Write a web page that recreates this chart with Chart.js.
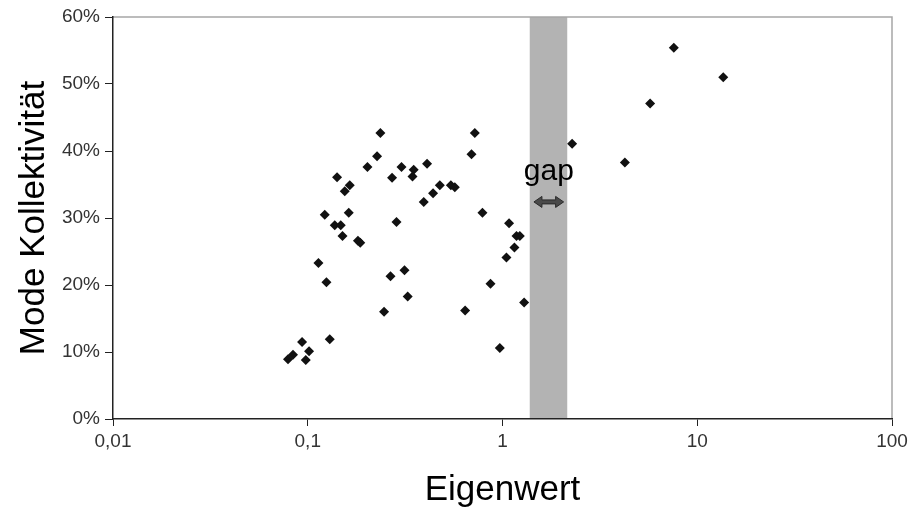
<!DOCTYPE html>
<html>
<head>
<meta charset="utf-8">
<script src="https://cdn.jsdelivr.net/npm/chart.js@4.4.0/dist/chart.umd.min.js"></script>
<style>
  html, body { margin: 0; padding: 0; background: #fff; }
  #wrap { width: 910px; height: 509px; }
</style>
</head>
<body>
<div id="wrap"><canvas id="modeChart"></canvas></div>
<script>
// Eigenwert (x, log) and Mode Kollektivitaet in % (y)
const eigenwert = [
  0.236, 0.227, 0.2026, 0.1414, 0.1643, 0.1549, 0.303, 0.271, 0.350, 0.345,
  0.410, 0.4766, 0.543, 0.569, 0.440, 0.394, 0.1223, 0.1624, 0.1376, 0.1477,
  0.1508, 0.181, 0.186, 0.2855, 0.1135, 0.1247, 0.266, 0.314, 0.326, 0.2465,
  0.0935, 0.1016, 0.084, 0.0792, 0.0977, 0.1297, 0.721, 0.693, 0.789, 1.081,
  1.180, 1.227, 1.152, 1.048, 0.868, 1.291, 0.643, 0.969, 2.278, 7.58,
  13.6, 5.73, 4.25
];
const kollektivitaet = [
  42.7, 39.2, 37.6, 36.1, 34.9, 34.0, 37.6, 36.0, 37.2, 36.2,
  38.1, 34.9, 34.9, 34.6, 33.7, 32.4, 30.5, 30.8, 28.9, 28.9,
  27.3, 26.6, 26.3, 29.4, 23.3, 20.4, 21.3, 22.2, 18.3, 16.0,
  11.5, 10.1, 9.6, 8.9, 8.8, 11.9, 42.7, 39.5, 30.8, 29.2,
  27.3, 27.3, 25.6, 24.1, 20.2, 17.4, 16.2, 10.6, 41.1, 55.4,
  51.0, 47.1, 38.3
];

const xTicks = [0.01, 0.1, 1, 10, 100];
const yTicks = [0, 10, 20, 30, 40, 50, 60];

// grey band + arrow marking the gap
const gapFrom = 1.38;
const gapTo = 2.15;
const arrowFrom = 1.45;
const arrowTo = 2.06;
const arrowAt = 32.4;
const gapLabel = 'gap';
const gapLabelX = 1.73;
const gapLabelY = 36.9;

const points = eigenwert.map((v, i) => ({ x: v, y: kollektivitaet[i] }));

const gapPlugin = {
  id: 'gapPlugin',
  beforeDraw(chart) {
    const { ctx, chartArea: a, scales: { x } } = chart;
    const x0 = x.getPixelForValue(gapFrom);
    const x1 = x.getPixelForValue(gapTo);
    ctx.save();
    ctx.fillStyle = '#b3b3b3';
    ctx.fillRect(x0, a.top, x1 - x0, a.bottom - a.top);
    // light frame on top and right
    ctx.strokeStyle = '#a6a6a6';
    ctx.lineWidth = 1.5;
    ctx.beginPath();
    ctx.moveTo(a.left, a.top);
    ctx.lineTo(a.right, a.top);
    ctx.lineTo(a.right, a.bottom);
    ctx.stroke();
    ctx.restore();
  },
  afterDatasetsDraw(chart) {
    const { ctx, scales: { x, y } } = chart;
    const ax0 = x.getPixelForValue(arrowFrom);
    const ax1 = x.getPixelForValue(arrowTo);
    const ay = y.getPixelForValue(arrowAt);
    const head = 8;
    ctx.save();
    ctx.fillStyle = '#4a4a4a';
    ctx.strokeStyle = '#2a2a2a';
    ctx.lineWidth = 1;
    ctx.beginPath();
    ctx.moveTo(ax0, ay);
    ctx.lineTo(ax0 + head, ay - 5.5);
    ctx.lineTo(ax0 + head, ay - 2);
    ctx.lineTo(ax1 - head, ay - 2);
    ctx.lineTo(ax1 - head, ay - 5.5);
    ctx.lineTo(ax1, ay);
    ctx.lineTo(ax1 - head, ay + 5.5);
    ctx.lineTo(ax1 - head, ay + 2);
    ctx.lineTo(ax0 + head, ay + 2);
    ctx.lineTo(ax0 + head, ay + 5.5);
    ctx.closePath();
    ctx.fill();
    ctx.stroke();

    ctx.fillStyle = '#000';
    ctx.font = '30px "Liberation Sans", Arial, sans-serif';
    ctx.textAlign = 'center';
    ctx.textBaseline = 'middle';
    ctx.fillText(gapLabel, x.getPixelForValue(gapLabelX), y.getPixelForValue(gapLabelY));
    ctx.restore();
  }
};

const tickFont = { family: '"Liberation Sans", Arial, sans-serif', size: 19 };
const titleFont = { family: '"Liberation Sans", Arial, sans-serif', size: 35, lineHeight: 1 };

new Chart(document.getElementById('modeChart'), {
  type: 'scatter',
  data: {
    datasets: [{
      label: 'Moden',
      data: points,
      pointStyle: 'rectRot',
      pointRadius: 5,
      pointHoverRadius: 5,
      backgroundColor: '#111',
      borderColor: '#111',
      borderWidth: 0
    }]
  },
  options: {
    responsive: true,
    maintainAspectRatio: false,
    animation: false,
    layout: { padding: { top: 17, right: 18, left: 0, bottom: 0 } },
    plugins: {
      legend: { display: false },
      tooltip: { enabled: false }
    },
    scales: {
      x: {
        type: 'logarithmic',
        min: 0.01,
        max: 100,
        afterBuildTicks: (scale) => { scale.ticks = xTicks.map((v) => ({ value: v })); },
        afterFit: (scale) => { scale.height = 90; scale.paddingRight = 0; scale.paddingLeft = 0; },
        ticks: {
          color: '#333',
          font: tickFont,
          padding: 4,
          maxRotation: 0,
          autoSkip: false,
          callback: (v) => String(v).replace('.', ',')
        },
        grid: { drawOnChartArea: false, drawTicks: true, tickLength: 7, color: '#222' },
        border: { display: true, color: '#222', width: 1.5 },
        title: { display: true, text: 'Eigenwert', color: '#000', font: titleFont, padding: { top: 0, bottom: 1 } }
      },
      y: {
        min: 0,
        max: 60,
        afterBuildTicks: (scale) => { scale.ticks = yTicks.map((v) => ({ value: v })); },
        afterFit: (scale) => { scale.width = 113; },
        ticks: {
          color: '#333',
          font: tickFont,
          padding: 5,
          callback: (v) => v + '%'
        },
        grid: { drawOnChartArea: false, drawTicks: true, tickLength: 8, color: '#222' },
        border: { display: true, color: '#222', width: 1.5 },
        title: { display: true, text: 'Mode Kollektivität', color: '#000', font: titleFont, padding: { top: 17, bottom: 0 } }
      }
    }
  },
  plugins: [gapPlugin]
});
</script>
</body>
</html>
